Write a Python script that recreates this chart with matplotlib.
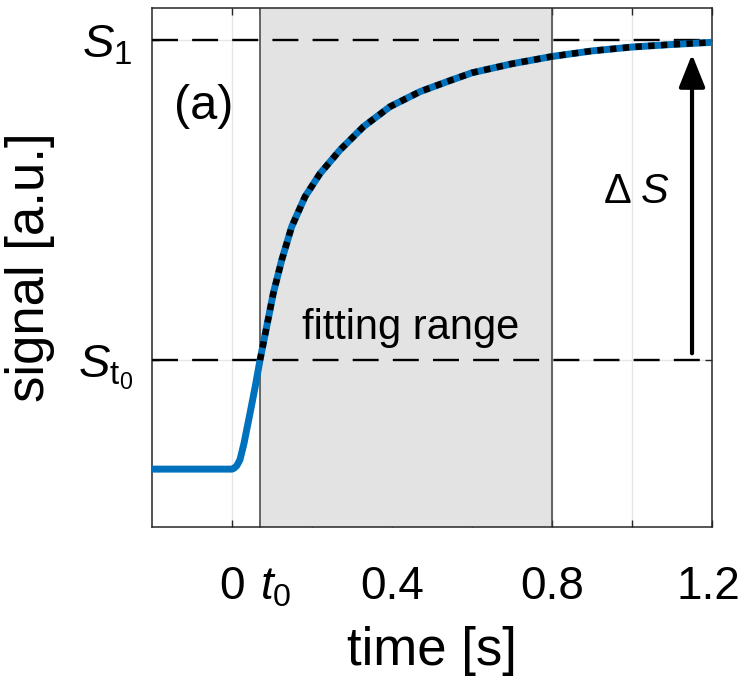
import numpy as np
import matplotlib
matplotlib.use("Agg")
import matplotlib.pyplot as plt
import matplotlib.transforms as mtransforms

plt.rcParams['font.family'] = ['Liberation Sans', 'DejaVu Sans']
plt.rcParams['mathtext.fontset'] = 'custom'
plt.rcParams['mathtext.rm'] = 'Liberation Sans'
plt.rcParams['mathtext.it'] = 'Liberation Sans:italic'

# signal (time in s, signal normalised: baseline 0, S1 = 1)
time = [-0.2, 0.0, 0.005, 0.012, 0.02, 0.03, 0.045, 0.058, 0.07,
        0.0867, 0.1033, 0.1242, 0.1492, 0.1825, 0.22, 0.27, 0.3283,
        0.395, 0.47, 0.5367, 0.6, 0.7, 0.8, 0.9, 1.0, 1.1, 1.2]
signal = [0.0, 0.0, 0.002, 0.008, 0.022, 0.06, 0.13, 0.192, 0.254,
          0.332, 0.41, 0.487, 0.565, 0.635, 0.689, 0.744, 0.798,
          0.845, 0.88, 0.903, 0.924, 0.945, 0.962, 0.975, 0.984, 0.99, 0.995]

t0 = 0.07
fit_end = 0.8
S_t0 = 0.254
S_1 = 1.0

# fitted curve covers t0 .. 1.2
fit_time = [t for t in time if t >= t0]
fit_signal = [s for t, s in zip(time, signal) if t >= t0]

xticks = [0, t0, 0.2, 0.4, 0.6, 0.8, 1.0, 1.2]
xticklabels = ['0', '$t_0$', '', '0.4', '', '0.8', '', '1.2']
yticks = [S_t0, S_1]
yticklabels = [r'$S_{\mathrm{t}_0}$', '$S_1$']

blue = '#0072BD'
axc = '#262626'

fig = plt.figure(figsize=(7.41, 6.91), dpi=100)
ax = fig.add_axes([0.2051, 0.2373, 0.7558, 0.7511])

ax.axvspan(t0, fit_end, color='#e3e3e3', zorder=1, lw=0)
ax.axvline(t0, color='#404040', lw=1.1, zorder=2)
ax.axvline(fit_end, color='#404040', lw=1.1, zorder=2)

ax.axhline(S_1, color='k', lw=1.7, ls=(0, (11, 6)), zorder=3)
ax.axhline(S_t0, color='k', lw=1.7, ls=(0, (11, 6)), zorder=3)

ax.plot(time, signal, color=blue, lw=5, zorder=4,
        solid_joinstyle='round', solid_capstyle='butt')
ax.plot(fit_time, fit_signal, color='k', lw=4.6, ls=(0, (1, 1)), zorder=5)

ax.annotate('', xy=(1.15, 0.967), xytext=(1.15, 0.27),
            arrowprops=dict(arrowstyle='-|>,head_length=1.0,head_width=0.4',
                            mutation_scale=20, color='k', lw=3,
                            shrinkA=0, shrinkB=0), zorder=6)

ax.text(1.01, 0.645, r'$\Delta\;S$', fontsize=30, ha='center', va='center')
ax.text(0.447, 0.33, 'fitting range', fontsize=30, ha='center', va='center')
ax.text(-0.07, 0.845, '(a)', fontsize=35, ha='center', va='center')

ax.set_xlim(-0.2, 1.2)
ax.set_ylim(-0.135, 1.075)
ax.set_xticks(xticks)
ax.set_xticklabels(xticklabels)
ax.set_yticks(yticks)
ax.set_yticklabels(yticklabels)

ax.tick_params(axis='both', direction='in', length=5, width=1, color=axc,
               top=True, right=True)
ax.tick_params(axis='x', pad=52, labelsize=33)
ax.tick_params(axis='y', pad=14, labelsize=34)

xlbls = ax.get_xticklabels()
for lbl in xlbls:
    lbl.set_va('baseline')
# t0 label sits a little to the right of its tick, last label kept inside
xlbls[1].set_transform(xlbls[1].get_transform() +
                       mtransforms.ScaledTranslation(16 / 100, 0, fig.dpi_scale_trans))
xlbls[-1].set_transform(xlbls[-1].get_transform() +
                        mtransforms.ScaledTranslation(-4 / 100, 0, fig.dpi_scale_trans))

ax.grid(True, color='#e6e6e6', lw=1)
ax.set_axisbelow(True)
for sp in ax.spines.values():
    sp.set_color(axc)
    sp.set_linewidth(1.1)

ax.set_xlabel('time [s]', fontsize=38, labelpad=12)
ax.set_ylabel('signal [a.u.]', fontsize=38, labelpad=16)

fig.savefig('out.png', dpi=100)
